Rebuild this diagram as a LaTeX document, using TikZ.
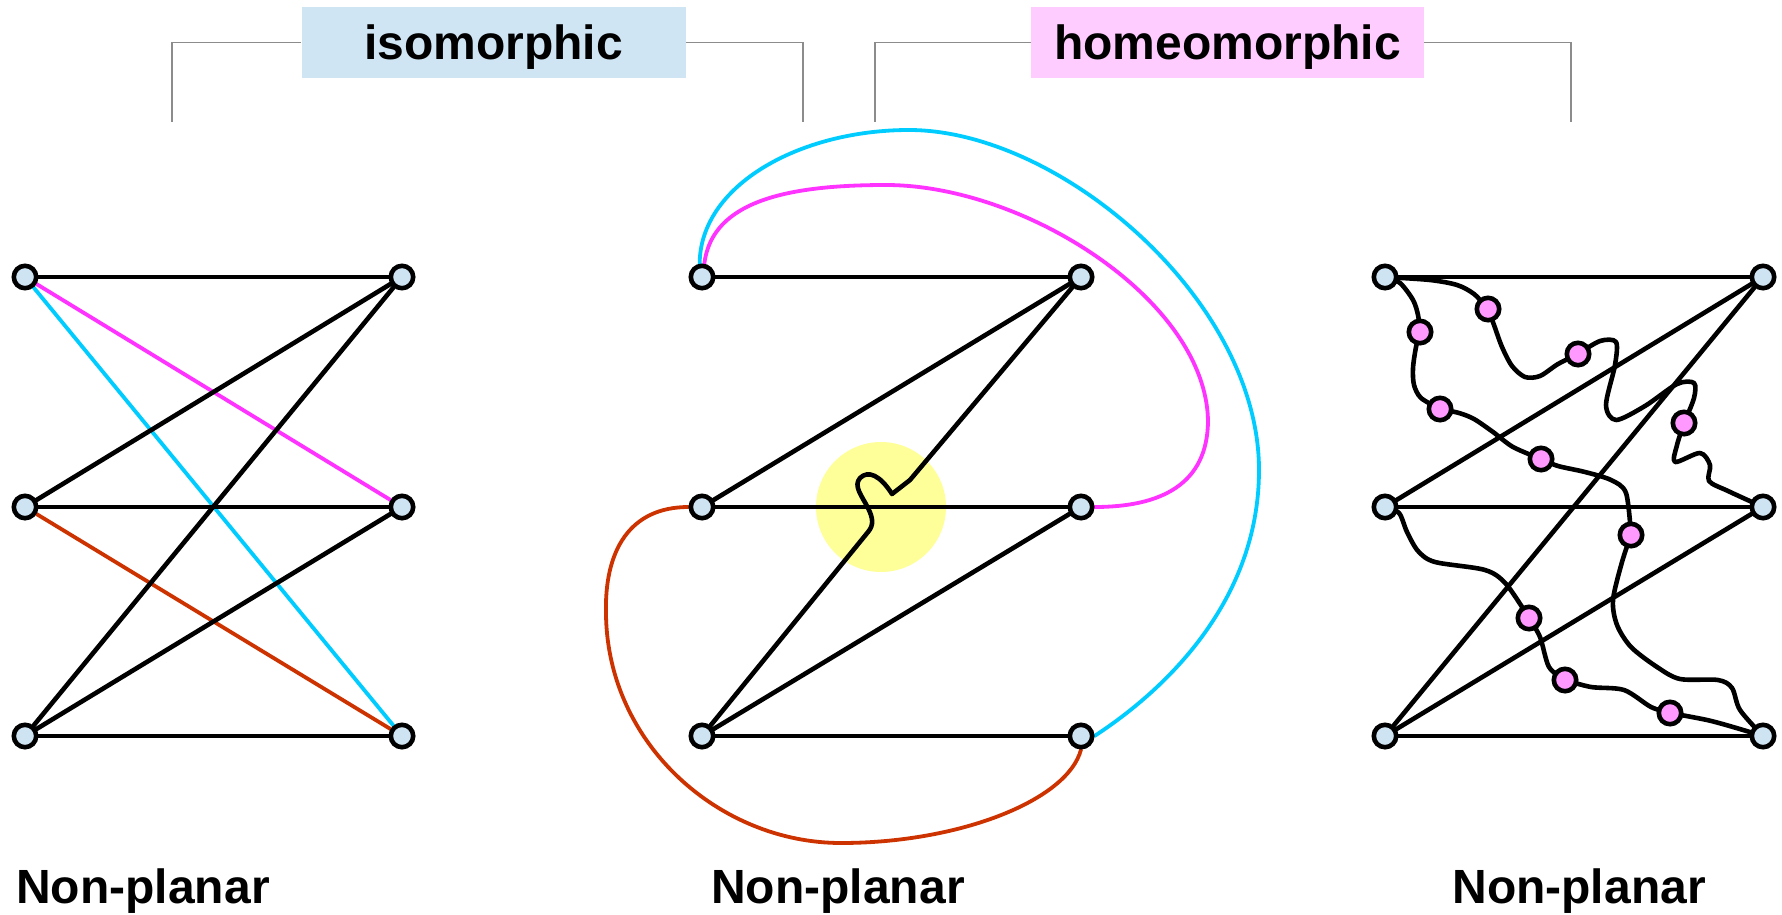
\documentclass[tikz,border=0pt]{standalone}
\usepackage{fontspec}
\setmainfont{Liberation Sans}
\usetikzlibrary{backgrounds}

\definecolor{vblue}{HTML}{CFE4F2}
\definecolor{vpink}{HTML}{FF99FF}
\definecolor{isofill}{HTML}{CFE5F3}
\definecolor{homeofill}{HTML}{FFCCFF}
\definecolor{emag}{HTML}{FF33FF}
\definecolor{ecyan}{HTML}{00CCFF}
\definecolor{ered}{HTML}{CC3300}
\definecolor{hilite}{HTML}{FFFF99}

\begin{document}
\begin{tikzpicture}[
    x=0.5pt, y=-0.5pt,
    vtx/.style={circle, draw=black, line width=2.3pt, fill=vblue, minimum size=11.2pt, inner sep=0pt},
    subvtx/.style={vtx, fill=vpink},
    edge/.style={line width=2.3pt, line cap=round, line join=round},
    cedge/.style={edge, line width=1.9pt},
    title/.style={font=\bfseries\fontsize{24}{28}\selectfont},
    tag/.style={title, minimum height=35.5pt, inner sep=0pt, text height=17pt, text depth=0pt},
    bracket/.style={draw=black!45, line width=0.6pt}
]
    \useasboundingbox (0,0) rectangle (1782,915);

    % relation tags
    \node[tag, fill=isofill, minimum width=192pt] (iso) at (493.5,42.5) {isomorphic};
    \node[tag, fill=homeofill, minimum width=196.5pt] (homeo) at (1227.5,42.5) {homeomorphic};
    \coordinate (isoL) at (172,122);
    \coordinate (isoR) at (803,122);
    \coordinate (homeoL) at (875,122);
    \coordinate (homeoR) at (1571,122);
    \draw[bracket] (iso.west) -| (isoL);
    \draw[bracket] (iso.east) -| (isoR);
    \draw[bracket] (homeo.west) -| (homeoL);
    \draw[bracket] (homeo.east) -| (homeoR);

    % (a) K33
    \node[vtx] (ku1) at (25,277) {};
    \node[vtx] (ku2) at (25,507) {};
    \node[vtx] (ku3) at (25,736) {};
    \node[vtx] (kv1) at (402,277) {};
    \node[vtx] (kv2) at (402,507) {};
    \node[vtx] (kv3) at (402,736) {};
    \node[title, anchor=base] (np1) at (143,903) {Non-planar};

    % (b) redrawn
    \node[vtx] (zu1) at (702,277) {};
    \node[vtx] (zu2) at (702,507) {};
    \node[vtx] (zu3) at (702,736) {};
    \node[vtx] (zv1) at (1081,277) {};
    \node[vtx] (zv2) at (1081,507) {};
    \node[vtx] (zv3) at (1081,736) {};
    \node[title, anchor=base] (np2) at (838,903) {Non-planar};

    % (c) subdivided
    \node[vtx] (su1) at (1385,277) {};
    \node[vtx] (su2) at (1385,507) {};
    \node[vtx] (su3) at (1385,736) {};
    \node[vtx] (sv1) at (1763,277) {};
    \node[vtx] (sv2) at (1763,507) {};
    \node[vtx] (sv3) at (1763,736) {};
    \node[subvtx] (sa1) at (1420,332) {};
    \node[subvtx] (sa2) at (1440,409) {};
    \node[subvtx] (sa3) at (1541,459) {};
    \node[subvtx] (sa4) at (1631,535) {};
    \node[subvtx] (sb1) at (1488,309) {};
    \node[subvtx] (sb2) at (1578,354) {};
    \node[subvtx] (sb3) at (1684,423) {};
    \node[subvtx] (sc1) at (1529,618) {};
    \node[subvtx] (sc2) at (1565,680) {};
    \node[subvtx] (sc3) at (1670,713) {};
    \node[title, anchor=base] (np3) at (1579,903) {Non-planar};

    \begin{scope}[on background layer]
        % (a)
        \draw[edge] (ku1) -- (kv1);
        \draw[cedge, draw=emag] (ku1) -- (kv2);
        \draw[cedge, draw=ecyan] (ku1) -- (kv3);
        \draw[edge] (ku2) -- (kv1);
        \draw[edge] (ku2) -- (kv2);
        \draw[cedge, draw=ered] (ku2) -- (kv3);
        \draw[edge] (ku3) -- (kv1);
        \draw[edge] (ku3) -- (kv2);
        \draw[edge] (ku3) -- (kv3);

        % (b)
        \node[circle, fill=hilite, minimum size=65pt, inner sep=0pt] (spot) at (881,507) {};
        \draw[edge] (zu1) -- (zv1);
        \draw[edge] (zu2) -- (zv1);
        \draw[edge] (zu2) -- (zv2);
        \draw[edge] (zu3) -- (zv2);
        \draw[edge] (zu3) -- (zv3);
        \draw[edge] (zu3) -- (868,532) .. controls (874,525) and (873,518) .. (868,508)
            .. controls (862,496) and (853,486) .. (860,478)
            .. controls (868,470) and (880,475) .. (892,494) -- (910,480) -- (zv1);
        \draw[cedge, draw=emag] (zu1.80) .. controls (712,200) and (790,185) .. (886,185)
            .. controls (1025,185) and (1205,300) .. (1208,420)
            .. controls (1208,485) and (1160,507) .. (zv2.east);
        \draw[cedge, draw=ecyan] (zu1.100) .. controls (700,185) and (800,130) .. (909,130)
            .. controls (1060,130) and (1259,300) .. (1259,470)
            .. controls (1259,590) and (1180,680) .. (zv3.east);
        \draw[cedge, draw=ered] (zu2.west) .. controls (630,507) and (604,550) .. (606,615)
            .. controls (608,745) and (720,843) .. (841,843)
            .. controls (960,843) and (1068,800) .. (zv3.south);

        % (c)
        \draw[edge] (su1) -- (sv1);
        \draw[edge] (su2) -- (sv1);
        \draw[edge] (su3) -- (sv1);
        \draw[edge] (su2) -- (sv2);
        \draw[edge] (su3) -- (sv2);
        \draw[edge] (su3) -- (sv3);
        \draw[edge] plot[smooth] coordinates {(su1) (1400,283) (1413,300) (1418,315) (sa1)};
        \draw[edge] plot[smooth] coordinates {(sa1) (1416,347) (1413,368) (1414,385) (1421,398) (sa2)};
        \draw[edge] plot[smooth] coordinates {(sa2) (1459,413) (1474,419) (1493,432) (1513,447) (sa3)};
        \draw[edge] plot[smooth] coordinates {(sa3) (1558,466) (1585,472) (1611,480) (1626,493) (sa4)};
        \draw[edge] plot[smooth] coordinates {(sa4) (1622,562) (1613,600) (1617,625) (1631,647) (1657,667) (1680,679) (1718,680) (1732,688) (1740,710) (sv3)};
        \draw[edge] plot[smooth] coordinates {(su1) (1430,280) (1457,285) (1474,294) (sb1)};
        \draw[edge] plot[smooth] coordinates {(sb1) (1494,325) (1502,347) (1512,366) (1525,377) (1540,376) (1558,364) (sb2)};
        \draw[edge] plot[smooth] coordinates {(sb2) (1600,341) (1616,342) (1615,365) (1606,405) (1616,420) (1645,406) (1677,384) (1694,383) (1694,398) (sb3)};
        \draw[edge] plot[smooth] coordinates {(sb3) (1677,445) (1675,462) (1700,453) (1710,465) (1709,481) (1728,491) (sv2)};
        \draw[edge] plot[smooth] coordinates {(su2) (1399,513) (1407,532) (1418,551) (1435,562) (1485,570) (1506,584) (sc1)};
        \draw[edge] plot[smooth] coordinates {(sc1) (1540,637) (1549,667) (sc2)};
        \draw[edge] plot[smooth] coordinates {(sc2) (1591,687) (1624,690) (1651,707) (sc3)};
        \draw[edge] plot[smooth] coordinates {(sc3) (1707,720) (1733,727) (sv3)};
    \end{scope}
\end{tikzpicture}
\end{document}
